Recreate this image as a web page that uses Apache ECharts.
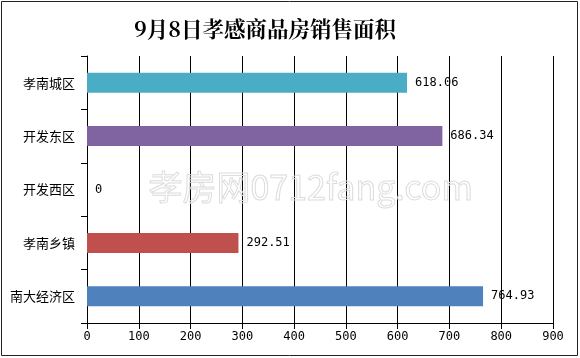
<!DOCTYPE html>
<html><head><meta charset="utf-8">
<script src="https://cdn.jsdelivr.net/npm/echarts@6/dist/echarts.min.js"></script>
<style>html,body{margin:0;padding:0;background:#fff}#c{width:580px;height:358px}</style>
</head><body><div id="c"></div>
<script>
const categories = ['孝南城区','开发东区','开发西区','孝南乡镇','南大经济区'];
const values = [618.06, 686.34, 0, 292.51, 764.93];
const labels = ['618.06','686.34','0','292.51','764.93'];
const colors = ['#4BACC6','#8064A2','#C0504D','#C0504D','#4F81BD'];
const xTicks = [0,100,200,300,400,500,600,700,800,900];

const chart = echarts.init(document.getElementById('c'));
chart.setOption({
  animation:false,
  title:{text:'9月8日孝感商品房销售面积',left:129,top:13,
    textStyle:{fontFamily:'"Noto Serif CJK SC","Noto Sans CJK SC",serif',fontSize:21.5,fontWeight:'bold',color:'#000'}},
  graphic:[
    {type:'rect',shape:{x:1.5,y:1.5,width:576,height:354},style:{fill:null,stroke:'#222',lineWidth:1},silent:true},
    {type:'text',left:148,top:170,style:{text:'孝房网0712fang.com',fontSize:34,fontFamily:'"Noto Sans CJK SC",sans-serif',fill:'rgba(255,255,255,0)',stroke:'#dcdcdc',lineWidth:1},z:100,silent:true}
  ],
  grid:{left:87,right:27,top:56,bottom:35,containLabel:false},
  xAxis:{type:'value',min:0,max:900,interval:100,
    axisLine:{show:true,lineStyle:{color:'#000'}},
    axisTick:{show:true,inside:false,length:6,lineStyle:{color:'#000'}},
    splitLine:{show:true,lineStyle:{color:'#000',width:1}},
    axisLabel:{color:'#000',fontSize:12,fontFamily:'"DejaVu Sans Mono",monospace',margin:8}},
  yAxis:{type:'category',data:categories,inverse:true,
    axisLine:{show:true,lineStyle:{color:'#000'}},
    axisTick:{show:true,length:6,lineStyle:{color:'#000'}},
    axisLabel:{color:'#000',fontSize:13,fontFamily:'"Noto Sans CJK SC",sans-serif',margin:12}},
  series:[{type:'bar',barWidth:20,
    data:values.map((v,i)=>({value:v,itemStyle:{color:colors[i]}})),
    label:{show:true,position:'right',distance:8,color:'#000',fontSize:12,fontFamily:'"DejaVu Sans Mono",monospace',
      formatter:p=>labels[p.dataIndex]}}]
});
</script></body></html>
